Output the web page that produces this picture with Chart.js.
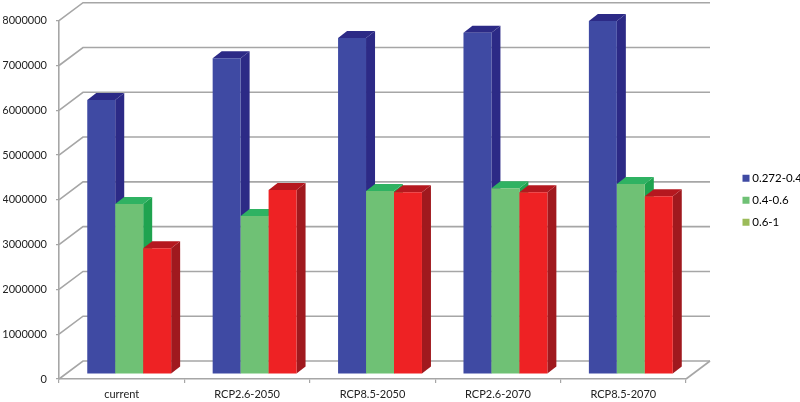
<!DOCTYPE html>
<html>
<head>
<meta charset="utf-8">
<style>
html, body { margin: 0; padding: 0; background: #fff; }
canvas { display: block; }
</style>
<script src="https://cdn.jsdelivr.net/npm/chart.js@4"></script>
</head>
<body>
<canvas id="chart" width="800" height="402"></canvas>
<script>
const categories = ["current", "RCP2.6-2050", "RCP8.5-2050", "RCP2.6-2070", "RCP8.5-2070"];
const seriesLabels = ["0.272-0.4", "0.4-0.6", "0.6-1"];
const blueValues = [6116000, 7050000, 7500000, 7620000, 7880000];
const greenValues = [3795000, 3527000, 4085000, 4150000, 4240000];
const redValues = [2810000, 4107000, 4060000, 4060000, 3970000];

const frontColors = ["#3F4AA3", "#6FC175", "#EE2224"];
const sideColors = ["#2C2A86", "#1FA34F", "#A0191E"];
const topColors = ["#2C2A86", "#2FB262", "#B5181F"];
const legendColors = ["#3F4AA3", "#6FC175", "#9BBB59"];
const gridColor = "#A6A6A6";

// wall depth and how far the bars sit inside it
const wallDx = 24, wallDy = -18;
const barShiftX = 7.5, barShiftY = -5;
const barDx = 9, barDy = -7;

function poly(ctx, pts, color) {
    ctx.fillStyle = color;
    ctx.beginPath();
    pts.forEach((p, i) => i ? ctx.lineTo(p[0], p[1]) : ctx.moveTo(p[0], p[1]));
    ctx.closePath();
    ctx.fill();
}

const fake3d = {
    id: "fake3d",
    afterLayout(chart) {
        chart.legend.left = 735;
        chart.legend.right = 800;
        chart.legend.bottom -= 22;
    },
    beforeDatasetsDraw(chart) {
        const ctx = chart.ctx, area = chart.chartArea, y = chart.scales.y;
        ctx.save();
        ctx.strokeStyle = gridColor;
        ctx.lineWidth = 1.6;
        y.ticks.forEach((t) => {
            const py = y.getPixelForValue(t.value);
            ctx.beginPath();
            ctx.moveTo(area.left, py);
            ctx.lineTo(area.left + wallDx, py + wallDy);
            ctx.lineTo(area.right + wallDx, py + wallDy);
            ctx.stroke();
        });
        ctx.beginPath();
        ctx.moveTo(area.right, area.bottom);
        ctx.lineTo(area.right + wallDx, area.bottom + wallDy);
        ctx.stroke();
        ctx.restore();

        // back to front, left bar first, so each bar covers its neighbour's side
        ctx.save();
        ctx.translate(barShiftX, barShiftY);
        [0, 1, 2].forEach((i) => {
            const meta = chart.getDatasetMeta(i);
            meta.data.forEach((bar) => {
                const l = bar.x - bar.width / 2, r = bar.x + bar.width / 2;
                poly(ctx, [[r, bar.y], [r + barDx, bar.y + barDy], [r + barDx, bar.base + barDy], [r, bar.base]], sideColors[i]);
                poly(ctx, [[l, bar.y], [l + barDx, bar.y + barDy], [r + barDx, bar.y + barDy], [r, bar.y]], topColors[i]);
            });
            meta.controller.draw();
        });
        ctx.restore();
    },
    beforeDatasetDraw() {
        return false;
    }
};

new Chart(document.getElementById("chart"), {
    type: "bar",
    data: {
        labels: categories,
        datasets: [
            { label: seriesLabels[0], data: blueValues, backgroundColor: frontColors[0] },
            { label: seriesLabels[1], data: greenValues, backgroundColor: frontColors[1] },
            { label: seriesLabels[2], data: redValues, backgroundColor: frontColors[2] }
        ]
    },
    options: {
        responsive: false,
        animation: false,
        datasets: { bar: { categoryPercentage: 0.669, barPercentage: 1, borderWidth: 0 } },
        layout: { padding: { left: 3, top: 20.7, right: 37, bottom: 0 } },
        plugins: {
            tooltip: { enabled: false },
            legend: {
                position: "right",
                labels: {
                    usePointStyle: true,
                    boxWidth: 1,
                    boxHeight: 7,
                    padding: 10.5,
                    color: "#333",
                    font: { family: "Lato", size: 11.5 },
                    generateLabels: () => seriesLabels.map((text, i) => ({
                        text: text,
                        fillStyle: legendColors[i],
                        strokeStyle: legendColors[i],
                        lineWidth: 0,
                        pointStyle: "rect",
                        rotation: 0,
                        datasetIndex: i
                    }))
                }
            }
        },
        scales: {
            x: {
                afterFit: (s) => { s.height = 23; },
                grid: { drawOnChartArea: false, color: gridColor, tickLength: 4, lineWidth: 1.2 },
                border: { color: gridColor, width: 1.6 },
                ticks: { color: "#222", padding: 5, maxRotation: 0, font: { family: "Lato", size: 11 } }
            },
            y: {
                min: 0,
                max: 8000000,
                afterFit: (s) => { s.width = 56; },
                grid: { drawOnChartArea: false, color: gridColor, tickLength: 3, lineWidth: 1.2 },
                border: { color: gridColor, width: 1.6 },
                ticks: {
                    stepSize: 1000000,
                    color: "#222",
                    padding: 9,
                    font: { family: "Lato", size: 11 },
                    callback: (v) => String(v)
                }
            }
        }
    },
    plugins: [fake3d]
});
</script>
</body>
</html>
